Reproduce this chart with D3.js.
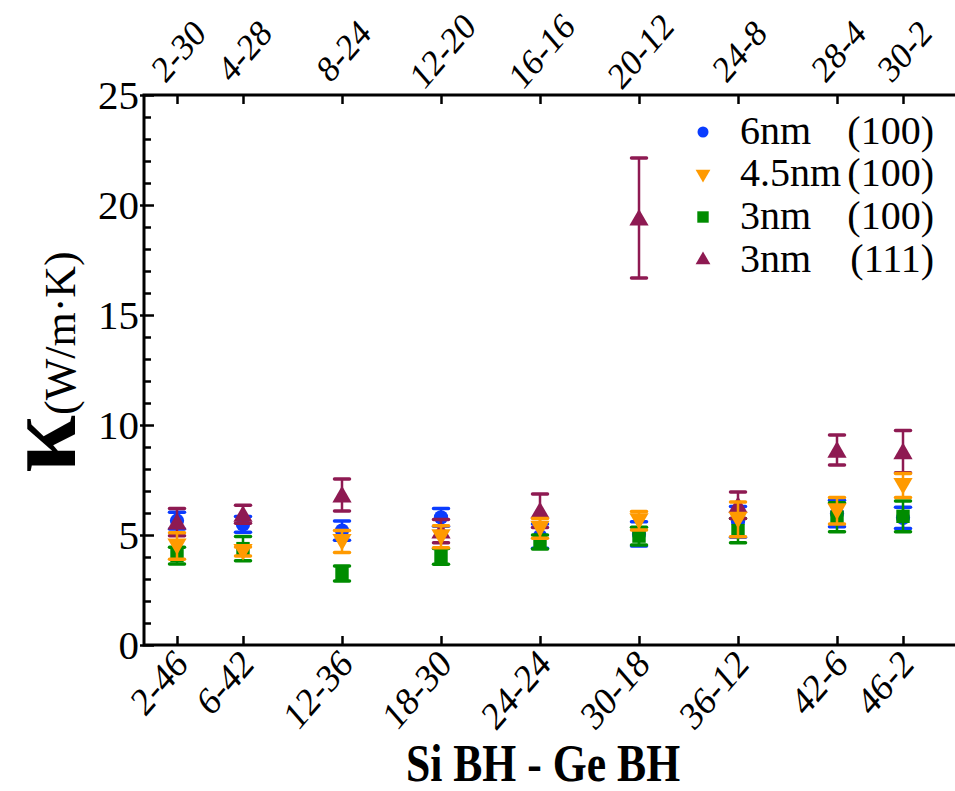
<!DOCTYPE html>
<html>
<head>
<meta charset="utf-8">
<script src="https://cdn.jsdelivr.net/npm/d3@7"></script>
<style>
  html, body { margin: 0; padding: 0; background: #fff; }
  svg { display: block; }
  text { font-family: "Liberation Serif", "Times New Roman", serif; fill: #000; }
</style>
</head>
<body>
<svg id="chart" width="955" height="791" font-family="Liberation Serif, serif"></svg>
<script>
// Si / Ge body-height split (bottom axis position, in Si BH units)
const siBH = [2, 6, 12, 18, 24, 30, 36, 42, 46];
const bottomLabels = ["2-46", "6-42", "12-36", "18-30", "24-24", "30-18", "36-12", "42-6", "46-2"];
const topLabels = ["2-30", "4-28", "8-24", "12-20", "16-16", "20-12", "24-8", "28-4", "30-2"];
const yTicks = [0, 5, 10, 15, 20, 25];

// Thermal conductivity (W/m·K) and error half-widths for each wire
const k6nm100   = [5.65, 5.48, 5.20, 5.80, 4.95, 5.05, 5.60, 5.98, 5.78];
const e6nm100   = [0.38, 0.36, 0.44, 0.40, 0.55, 0.55, 0.70, 0.60, 0.48];
const k45nm100  = [4.50, 4.25, 4.70, 4.92, 5.30, 5.65, 5.71, 6.10, 7.25];
const e45nm100  = [0.60, 0.20, 0.50, 0.50, 0.45, 0.42, 0.79, 0.60, 0.55];
const k3nm100   = [4.06, 4.38, 3.25, 4.03, 4.68, 4.95, 5.20, 5.81, 5.85];
const e3nm100   = [0.38, 0.55, 0.34, 0.36, 0.32, 0.40, 0.55, 0.66, 0.70];
const k3nm111   = [5.59, 5.94, 6.82, 5.18, 6.10, 19.41, 6.35, 8.86, 8.79];
const e3nm111   = [0.62, 0.41, 0.73, 0.53, 0.76, 2.73, 0.60, 0.68, 0.96];

const seriesNames = ["6nm", "4.5nm", "3nm", "3nm"];
const seriesOrient = ["(100)", "(100)", "(100)", "(111)"];

const series = [
  { name: seriesNames[0], orient: seriesOrient[0], k: k6nm100,  e: e6nm100,  color: "#0a3cff", symbol: d3.symbolCircle,   size: 160, flip: false },
  { name: seriesNames[1], orient: seriesOrient[1], k: k45nm100, e: e45nm100, color: "#ff9a00", symbol: d3.symbolTriangle, size: 160, flip: true  },
  { name: seriesNames[2], orient: seriesOrient[2], k: k3nm100,  e: e3nm100,  color: "#008c00", symbol: d3.symbolSquare,   size: 180, flip: false },
  { name: seriesNames[3], orient: seriesOrient[3], k: k3nm111,  e: e3nm111,  color: "#8e1a52", symbol: d3.symbolTriangle, size: 160, flip: false }
];
// stacking order of the marks
const drawOrder = [0, 2, 3, 1];

const svg = d3.select("#chart");
const plotLeft = 144, plotTop = 95, plotBottom = 645;
const serif = "Liberation Serif, Times New Roman, serif";

const x = d3.scaleLinear().domain([0, 50]).range([plotLeft, plotLeft + 50 * 16.5]);
const y = d3.scaleLinear().domain([0, 25]).range([plotBottom, plotTop]);
const plotRight = x(50);

// frame
svg.append("rect")
  .attr("x", plotLeft).attr("y", plotTop)
  .attr("width", plotRight - plotLeft).attr("height", plotBottom - plotTop)
  .attr("fill", "none").attr("stroke", "#000").attr("stroke-width", 3);

// left axis: major ticks crossing the spine, labelled; minor ticks every unit (inward)
const yAxis = d3.axisLeft(y).tickValues(yTicks).tickSize(-10).tickPadding(5).tickFormat(d3.format("d"));
const gy = svg.append("g").attr("transform", `translate(${plotLeft},0)`).call(yAxis);
gy.select(".domain").remove();
gy.selectAll(".tick line").attr("x1", -4).attr("stroke-width", 2.5);
gy.selectAll(".tick text").style("font-size", "41px").attr("dy", "0.34em");
const yMinor = d3.axisLeft(y).tickValues(d3.range(0, 26).filter(v => v % 5 !== 0)).tickSize(-7).tickFormat("");
const gym = svg.append("g").attr("transform", `translate(${plotLeft},0)`).call(yMinor);
gym.select(".domain").remove();
gym.selectAll(".tick line").attr("stroke-width", 2.5);

// bottom axis (inward ticks, rotated labels ending at the tick)
const xAxisB = d3.axisBottom(x).tickValues(siBH).tickSize(-9).tickFormat((d, i) => bottomLabels[i]);
const gxb = svg.append("g").attr("transform", `translate(0,${plotBottom})`).call(xAxisB);
gxb.select(".domain").remove();
gxb.selectAll(".tick line").attr("stroke-width", 2.5);
gxb.selectAll(".tick text")
  .style("font-size", "40px")
  .attr("text-anchor", "end")
  .attr("dy", null)
  .attr("y", 0)
  .attr("transform", "translate(12,21) scale(0.86,1) rotate(-45)");

// top axis (inward ticks, rotated labels centred over the tick)
const xAxisT = d3.axisTop(x).tickValues(siBH).tickSize(-9).tickFormat((d, i) => topLabels[i]);
const gxt = svg.append("g").attr("transform", `translate(0,${plotTop})`).call(xAxisT);
gxt.select(".domain").remove();
gxt.selectAll(".tick line").attr("stroke-width", 2.5);
gxt.selectAll(".tick text")
  .style("font-size", "38px")
  .attr("text-anchor", "middle")
  .attr("dy", null)
  .attr("y", 0)
  .attr("transform", "translate(9,-35) scale(0.86,1) rotate(-45)");

svg.selectAll("g").attr("font-family", null).attr("font-size", null);
svg.selectAll("text").style("font-family", serif);

// error bars and markers
const capW = 7.5;
drawOrder.forEach(si => {
  const s = series[si];
  const g = svg.append("g");
  const pts = siBH.map((v, i) => ({ xv: v, k: s.k[i], e: s.e[i] }));
  const eb = g.selectAll("g.eb").data(pts).enter().append("g")
    .attr("stroke", s.color).attr("stroke-width", 2.5).attr("fill", "none");
  eb.append("line").attr("x1", d => x(d.xv)).attr("x2", d => x(d.xv))
    .attr("y1", d => y(d.k - d.e)).attr("y2", d => y(d.k + d.e));
  eb.append("line").attr("stroke-width", 3.5).attr("stroke-linecap", "round")
    .attr("x1", d => x(d.xv) - capW).attr("x2", d => x(d.xv) + capW)
    .attr("y1", d => y(d.k + d.e)).attr("y2", d => y(d.k + d.e));
  eb.append("line").attr("stroke-width", 3.5).attr("stroke-linecap", "round")
    .attr("x1", d => x(d.xv) - capW).attr("x2", d => x(d.xv) + capW)
    .attr("y1", d => y(d.k - d.e)).attr("y2", d => y(d.k - d.e));
  g.selectAll("path.m").data(pts).enter().append("path")
    .attr("d", d3.symbol().type(s.symbol).size(s.size))
    .attr("fill", s.color)
    .attr("transform", d => `translate(${x(d.xv)},${y(d.k) + (s.symbol === d3.symbolTriangle ? (s.flip ? -2 : 2) : 0)}) rotate(${s.flip ? 180 : 0})`);
});

// legend
const legRows = [130, 172, 215, 258];
const leg = svg.append("g");
series.forEach((s, i) => {
  leg.append("path")
    .attr("d", d3.symbol().type(s.symbol).size(s.symbol === d3.symbolSquare ? 130 : 95))
    .attr("fill", s.color)
    .attr("transform", `translate(703,${legRows[i] + 2}) rotate(${s.flip ? 180 : 0})`);
  leg.append("text").attr("x", 740).attr("y", legRows[i] + 14)
    .style("font-family", serif).style("font-size", "40px").text(s.name);
  leg.append("text").attr("x", 934).attr("y", legRows[i] + 14).attr("text-anchor", "end")
    .style("font-family", serif).style("font-size", "40px").text(s.orient);
});

// axis titles
svg.append("text")
  .attr("transform", "translate(75,362) rotate(-90)")
  .attr("text-anchor", "middle")
  .style("font-family", serif)
  .call(t => {
    t.append("tspan").style("font-size", "104px").style("font-weight", "bold").text("κ");
    t.append("tspan").style("font-size", "44px").text("(W/m·K)");
  });

svg.append("text")
  .attr("transform", "translate(543,781) scale(0.84,1)")
  .attr("text-anchor", "middle")
  .style("font-family", serif)
  .style("font-size", "52px").style("font-weight", "bold")
  .text("Si BH - Ge BH");
</script>
</body>
</html>
